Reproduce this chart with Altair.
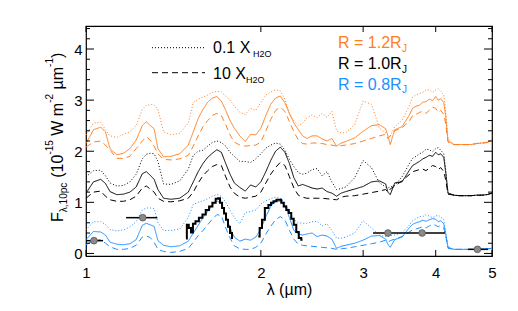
import altair as alt
import pandas as pd

# ---------------- data ----------------
lam = [1.00, 1.03, 1.06, 1.08, 1.10, 1.13, 1.16, 1.19, 1.22, 1.25,
       1.27, 1.29, 1.31, 1.33, 1.36, 1.40, 1.45, 1.50, 1.53, 1.56,
       1.59, 1.62, 1.65, 1.68, 1.71, 1.74, 1.77, 1.80, 1.84, 1.88,
       1.92, 1.96, 2.00, 2.04, 2.08, 2.12, 2.16, 2.20, 2.24, 2.28,
       2.32, 2.36, 2.40, 2.45, 2.50, 2.55, 2.60, 2.65, 2.70, 2.75,
       2.80, 2.90, 3.00, 3.10, 3.20, 3.28, 3.31, 3.34, 3.40, 3.50,
       3.60, 3.65, 3.70, 3.75, 3.80, 3.85, 3.90, 3.95, 4.00, 4.04,
       4.08, 4.13, 4.16, 4.20, 4.30,
       4.40, 4.50, 4.60, 4.70, 4.80, 4.90, 5.00]

# R = 1.2 RJ (orange)
r12_base = [2.15, 2.42, 2.47, 2.38, 2.05, 1.93, 1.96, 2.05, 2.22, 2.50,
            2.58, 2.50, 2.44, 2.05, 1.89, 1.90, 1.95, 2.12, 2.38, 2.64,
            2.82, 2.96, 3.04, 3.07, 2.98, 2.80, 2.60, 2.45, 2.30, 2.19,
            2.33, 2.32, 2.45, 2.70, 2.92, 3.04, 3.08, 2.95, 2.74, 2.55,
            2.42, 2.30, 2.25, 2.30, 2.30, 2.24, 2.20, 2.25, 2.10, 2.16,
            2.19, 2.26, 2.39, 2.50, 2.52, 2.44, 2.30, 2.13, 2.42, 2.48,
            2.70, 2.84, 2.88, 2.90, 2.96, 2.97, 3.02, 2.99, 3.07, 3.00,
            3.03, 2.95, 2.70, 2.20, 2.13,
            2.13, 2.13, 2.13, 2.15, 2.16, 2.17, 2.22]
r12_low = [2.32, 2.55, 2.57, 2.42, 2.30, 2.27, 2.33, 2.38, 2.50, 2.82,
           2.90, 2.91, 2.91, 2.82, 2.38, 2.32, 2.35, 2.55, 2.95, 3.02,
           3.06, 3.10, 3.15, 3.17, 3.16, 3.08, 3.00, 2.88, 2.76, 2.72,
           2.84, 2.80, 2.95, 3.10, 3.16, 3.20, 3.18, 3.02, 2.74, 2.60,
           2.50, 2.55, 2.65, 2.71, 2.66, 2.74, 2.66, 2.78, 2.40, 2.36,
           2.36, 2.52, 2.98, 2.92, 2.45, 2.36, 2.32, 2.30, 2.48, 2.60,
           2.88, 3.06, 3.10, 3.13, 3.15, 3.20, 3.20, 3.15, 3.20, 3.22,
           3.17, 3.10, 2.80, 2.25, 2.13,
           2.13, 2.13, 2.13, 2.15, 2.16, 2.17, 2.22]
r12_high = [2.08, 2.18, 2.20, 2.12, 2.02, 1.86, 1.86, 1.90, 2.05, 2.20,
            2.28, 2.22, 2.10, 1.95, 1.84, 1.83, 1.85, 1.92, 2.10, 2.30,
            2.48, 2.60, 2.70, 2.74, 2.70, 2.52, 2.32, 2.18, 2.12, 2.10,
            2.11, 2.12, 2.18, 2.40, 2.62, 2.80, 2.86, 2.78, 2.58, 2.38,
            2.22, 2.15, 2.14, 2.16, 2.16, 2.15, 2.13, 2.12, 2.10, 2.11,
            2.12, 2.15, 2.20, 2.25, 2.30, 2.33, 2.25, 2.30, 2.40, 2.46,
            2.58, 2.70, 2.72, 2.76, 2.78, 2.74, 2.80, 2.86, 2.84, 2.76,
            2.80, 2.72, 2.55, 2.18, 2.13,
            2.13, 2.13, 2.13, 2.15, 2.16, 2.17, 2.22]

# R = 1.0 RJ (black)
r10_base = [1.18, 1.40, 1.45, 1.37, 1.21, 1.15, 1.16, 1.20, 1.30, 1.56,
            1.60, 1.53, 1.45, 1.25, 1.08, 1.06, 1.08, 1.20, 1.40, 1.60,
            1.76, 1.88, 1.96, 2.03, 1.98, 1.76, 1.55, 1.38, 1.29, 1.22,
            1.34, 1.30, 1.40, 1.60, 1.82, 2.00, 2.08, 1.98, 1.76, 1.48,
            1.32, 1.35, 1.32, 1.28, 1.26, 1.28, 1.21, 1.18, 1.12, 1.18,
            1.21, 1.26, 1.31, 1.40, 1.42, 1.36, 1.20, 1.15, 1.38, 1.40,
            1.62, 1.72, 1.76, 1.80, 1.85, 1.88, 1.92, 1.90, 1.98, 1.93,
            1.95, 1.88, 1.60, 1.18, 1.14,
            1.13, 1.13, 1.13, 1.14, 1.14, 1.15, 1.18]
r10_low = [1.50, 1.62, 1.63, 1.52, 1.38, 1.32, 1.33, 1.40, 1.55, 1.85,
           1.94, 1.96, 1.95, 1.80, 1.36, 1.35, 1.42, 1.65, 1.92, 2.00,
           2.02, 2.10, 2.17, 2.20, 2.17, 2.10, 1.98, 1.90, 1.80, 1.80,
           1.78, 1.85, 1.95, 2.06, 2.12, 2.16, 2.14, 2.02, 1.84, 1.70,
           1.58, 1.55, 1.57, 1.64, 1.66, 1.52, 1.60, 1.40, 1.25, 1.27,
           1.30, 1.48, 1.82, 1.68, 1.38, 1.30, 1.28, 1.30, 1.33, 1.50,
           1.75, 1.86, 1.90, 1.95, 1.98, 2.04, 2.03, 1.99, 2.05, 2.07,
           2.02, 1.95, 1.65, 1.18, 1.14,
           1.13, 1.13, 1.13, 1.14, 1.14, 1.15, 1.18]
r10_high = [1.08, 1.20, 1.22, 1.12, 1.05, 1.02, 1.02, 1.05, 1.12, 1.28,
            1.32, 1.26, 1.20, 1.08, 1.02, 1.01, 1.03, 1.08, 1.20, 1.38,
            1.52, 1.62, 1.70, 1.74, 1.72, 1.50, 1.30, 1.18, 1.10, 1.08,
            1.10, 1.12, 1.20, 1.38, 1.55, 1.68, 1.78, 1.72, 1.50, 1.28,
            1.14, 1.10, 1.08, 1.08, 1.08, 1.08, 1.07, 1.06, 1.05, 1.10,
            1.12, 1.13, 1.16, 1.19, 1.22, 1.25, 1.20, 1.26, 1.32, 1.42,
            1.54, 1.60, 1.62, 1.64, 1.65, 1.62, 1.67, 1.72, 1.70, 1.64,
            1.68, 1.60, 1.45, 1.16, 1.14,
            1.13, 1.13, 1.13, 1.14, 1.14, 1.15, 1.18]

# R = 0.8 RJ (blue)
r08_base = [0.27, 0.43, 0.42, 0.36, 0.22, 0.18, 0.17, 0.19, 0.27, 0.55,
            0.59, 0.56, 0.53, 0.25, 0.16, 0.13, 0.15, 0.24, 0.40, 0.55,
            0.70, 0.82, 0.94, 1.03, 0.98, 0.75, 0.50, 0.32, 0.24, 0.28,
            0.26, 0.32, 0.48, 0.72, 0.92, 1.02, 1.02, 0.95, 0.70, 0.45,
            0.38, 0.36, 0.38, 0.40, 0.33, 0.36, 0.34, 0.28, 0.10, 0.14,
            0.16, 0.20, 0.26, 0.34, 0.35, 0.28, 0.18, 0.12, 0.27, 0.32,
            0.50, 0.57, 0.60, 0.62, 0.65, 0.63, 0.66, 0.68, 0.67, 0.62,
            0.64, 0.58, 0.40, 0.12, 0.08,
            0.08, 0.08, 0.08, 0.08, 0.09, 0.09, 0.10]
r08_low = [0.46, 0.62, 0.62, 0.57, 0.47, 0.44, 0.46, 0.52, 0.62, 0.85,
           0.89, 0.89, 0.88, 0.60, 0.45, 0.45, 0.48, 0.70, 0.96, 1.00,
           1.03, 1.07, 1.12, 1.15, 1.12, 1.00, 0.85, 0.70, 0.58, 0.80,
           0.82, 0.85, 0.97, 1.03, 1.07, 1.10, 1.08, 0.99, 0.82, 0.66,
           0.60, 0.59, 0.59, 0.62, 0.63, 0.54, 0.58, 0.45, 0.30, 0.30,
           0.32, 0.40, 0.64, 0.50, 0.36, 0.33, 0.33, 0.35, 0.36, 0.40,
           0.55, 0.64, 0.68, 0.72, 0.72, 0.76, 0.73, 0.70, 0.73, 0.75,
           0.71, 0.66, 0.42, 0.12, 0.08,
           0.08, 0.08, 0.08, 0.08, 0.09, 0.09, 0.10]
r08_high = [0.17, 0.25, 0.27, 0.20, 0.13, 0.08, 0.08, 0.10, 0.16, 0.32,
            0.34, 0.31, 0.22, 0.08, 0.04, 0.02, 0.04, 0.10, 0.22, 0.35,
            0.45, 0.56, 0.67, 0.76, 0.74, 0.50, 0.30, 0.15, 0.09, 0.08,
            0.08, 0.12, 0.20, 0.38, 0.53, 0.66, 0.72, 0.66, 0.45, 0.28,
            0.18, 0.16, 0.15, 0.14, 0.13, 0.12, 0.11, 0.10, 0.08, 0.09,
            0.10, 0.13, 0.16, 0.19, 0.22, 0.26, 0.22, 0.25, 0.28, 0.33,
            0.42, 0.46, 0.48, 0.50, 0.52, 0.50, 0.54, 0.57, 0.55, 0.52,
            0.55, 0.50, 0.35, 0.10, 0.08,
            0.08, 0.08, 0.08, 0.08, 0.09, 0.09, 0.10]

# observed low-resolution spectrum (H and K bands)
h_lam = [1.487, 1.496, 1.510, 1.522, 1.534, 1.553, 1.576, 1.597, 1.618, 1.640,
         1.661, 1.683, 1.694, 1.708, 1.722, 1.735, 1.749, 1.763, 1.777, 1.791]
h_val = [0.29, 0.56, 0.50, 0.41, 0.58, 0.63, 0.70, 0.76, 0.85, 0.92,
         0.99, 1.07, 1.08, 0.99, 0.89, 0.78, 0.66, 0.52, 0.40, 0.30]
k_lam = [1.980, 2.001, 2.017, 2.047, 2.074, 2.090, 2.115, 2.141, 2.158, 2.179,
         2.201, 2.223, 2.245, 2.267, 2.290, 2.313, 2.336, 2.359]
k_val = [0.33, 0.50, 0.66, 0.89, 0.95, 0.99, 1.02, 1.05, 1.05, 0.99,
         0.92, 0.85, 0.79, 0.68, 0.56, 0.42, 0.30, 0.27]

# photometry
p_lam = [1.032, 1.252, 3.31, 3.79, 4.72]
p_val = [0.25, 0.70, 0.40, 0.40, 0.08]
p_lo = [0.98, 1.172, 3.12, 3.50, 4.55]
p_hi = [1.07, 1.327, 3.50, 4.15, 4.92]

x_ticks = [1, 2, 3, 4, 5]
y_major = [0, 1, 2, 3, 4]
y_minor = [0.2, 0.4, 0.6, 0.8, 1.2, 1.4, 1.6, 1.8, 2.2, 2.4, 2.6, 2.8,
           3.2, 3.4, 3.6, 3.8, 4.2, 4.4]

# ---------------- style ----------------
FONT = "Liberation Sans"
ORANGE = "#ff7f1f"
BLUE = "#1e90ff"
W, H = 406, 230
XS = alt.Scale(type="log", domain=[1, 5], nice=False)
YS = alt.Scale(domain=[-0.05, 4.45], nice=False, zero=False)

X_AXIS = alt.Axis(values=x_ticks, format="d", ticks=False, domain=False,
                  grid=False, labelFlush=False, labelFont=FONT,
                  labelFontSize=15, labelColor="black", labelPadding=9,
                  title="λ (µm)", titleFont=FONT, titleFontSize=16,
                  titleFontWeight="normal", titleColor="black", titlePadding=1)
Y_AXIS = alt.Axis(values=y_major, ticks=False, domain=False, grid=False,
                  labelFlush=False, labelFont=FONT, labelFontSize=15,
                  labelColor="black", labelPadding=4, title="")


def X(field):
    return alt.X(field, type="quantitative", scale=XS, axis=X_AXIS)


def Y(field):
    return alt.Y(field, type="quantitative", scale=YS, axis=Y_AXIS)


rows = []
for col, sets in [("o", (r12_base, r12_low, r12_high)),
                  ("k", (r10_base, r10_low, r10_high)),
                  ("b", (r08_base, r08_low, r08_high))]:
    for sty, vals in zip(["s", "dot", "dash"], sets):
        for l, v in zip(lam, vals):
            rows.append({"lam": l, "val": v, "col": col, "sty": sty})
models = pd.DataFrame(rows)

obs = pd.DataFrame({"lam": h_lam + k_lam, "val": h_val + k_val,
                    "band": ["H"] * len(h_lam) + ["K"] * len(k_lam)})
phot = pd.DataFrame({"lam": p_lam, "val": p_val, "lo": p_lo, "hi": p_hi})

model_lines = alt.Chart(models).mark_line(strokeWidth=1, clip=True).encode(
    x=X("lam"), y=Y("val"),
    color=alt.Color("col:N", scale=alt.Scale(domain=["o", "k", "b"],
                                             range=[ORANGE, "black", BLUE]), legend=None),
    strokeDash=alt.StrokeDash("sty:N", scale=alt.Scale(domain=["s", "dot", "dash"],
                                                       range=[[1, 0], [1, 2], [6, 4]]),
                              legend=None),
)

obs_line = alt.Chart(obs).mark_line(interpolate="step", color="black", strokeWidth=2,
                                    clip=True).encode(
    x=X("lam"), y=Y("val"), detail="band:N")

err = alt.Chart(phot).mark_rule(color="black", strokeWidth=1.5, clip=True).encode(
    x=X("lo"), x2="hi", y=Y("val"))
pts = alt.Chart(phot).mark_circle(size=45, color="#8a8a8a", opacity=1, stroke="#555555",
                                  strokeWidth=0.8).encode(x=X("lam"), y=Y("val"))

# inward ticks
ymaj = pd.DataFrame({"v": y_major})
ymin = pd.DataFrame({"v": y_minor})
xt = pd.DataFrame({"v": x_ticks})
tick_layers = [
    alt.Chart(ymaj).mark_rule(color="black").encode(y=Y("v"), x=alt.value(0), x2=alt.value(8)),
    alt.Chart(ymaj).mark_rule(color="black").encode(y=Y("v"), x=alt.value(W - 8), x2=alt.value(W)),
    alt.Chart(ymin).mark_rule(color="black").encode(y=Y("v"), x=alt.value(0), x2=alt.value(4)),
    alt.Chart(ymin).mark_rule(color="black").encode(y=Y("v"), x=alt.value(W - 4), x2=alt.value(W)),
    alt.Chart(xt).mark_rule(color="black").encode(x=X("v"), y=alt.value(H - 6), y2=alt.value(H)),
    alt.Chart(xt).mark_rule(color="black").encode(x=X("v"), y=alt.value(0), y2=alt.value(6)),
]


def label(s, x, y, size=16, color="black", angle=0):
    return alt.Chart(pd.DataFrame({"t": [s]})).mark_text(
        align="left", baseline="alphabetic", font=FONT, fontSize=size, color=color,
        angle=angle).encode(x=alt.value(x), y=alt.value(y), text="t:N")


legend = [
    alt.Chart(pd.DataFrame({"a": [0]})).mark_rule(color="black", strokeDash=[1, 2]).encode(
        x=alt.value(66), x2=alt.value(119), y=alt.value(21.7)),
    alt.Chart(pd.DataFrame({"a": [0]})).mark_rule(color="black", strokeDash=[6, 4]).encode(
        x=alt.value(66), x2=alt.value(119), y=alt.value(46.7)),
    label("0.1 X", 127, 27.3),
    label("H2O", 167, 30.8, size=9),
    label("10 X", 127, 53.3),
    label("H2O", 160, 56.8, size=9),
    label("R = 1.2R", 252, 22.3, color=ORANGE),
    label("J", 316, 25.7, size=10, color=ORANGE),
    label("R = 1.0R", 252, 43.3),
    label("J", 316, 46.7, size=10),
    label("R = 0.8R", 252, 64.0, color=BLUE),
    label("J", 316, 67.4, size=10, color=BLUE),
]

# rotated y title built from pieces: (text, size, baseline x, start y)
ytitle = [
    ("F", 16, -23, 196.0),
    ("λ,10pc", 10, -19, 186.2),
    ("(10", 16, -23, 151.8),
    ("-15", 10, -33, 128.6),
    ("W m", 16, -23, 109.7),
    ("-2", 10, -33, 76.8),
    ("µm", 16, -23, 63.5),
    ("-1", 10, -33, 40.9),
    (")", 16, -23, 32.0),
]
title_layers = [label(t, x, y, size=s, angle=270) for (t, s, x, y) in ytitle]

chart = alt.layer(
    model_lines, obs_line, err, pts, *tick_layers, *legend, *title_layers
).properties(
    width=W, height=H,
    autosize=alt.AutoSizeParams(type="none"),
    padding={"left": 78, "top": 18, "right": 18, "bottom": 47},
    background="white",
).configure_view(stroke="black", strokeWidth=1.2)

chart.save("out.html", embed_options={"renderer": "svg", "actions": False})
